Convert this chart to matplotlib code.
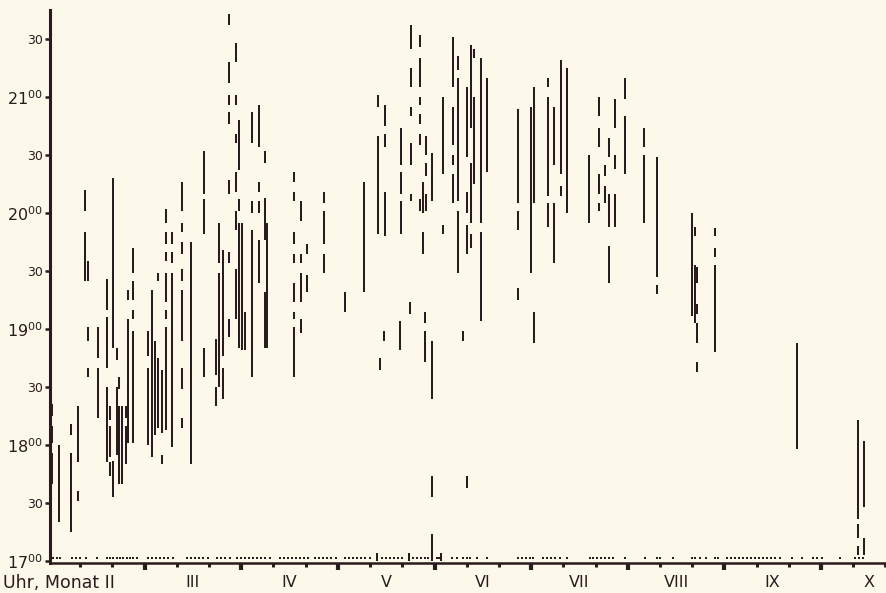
import matplotlib
matplotlib.use('Agg')
import matplotlib.pyplot as plt
from matplotlib.transforms import blended_transform_factory

plt.rcParams['font.family'] = ['DejaVu Sans']
plt.rcParams['mathtext.default'] = 'regular'

INK = '#2a1c1e'
PAPER = '#fcf8ea'

# x: day of season (30-day months, 0 = 1 Feb); y: minutes after 17:00
seg_day = [
    1.2, 1.2, 1.2,
    3.4,
    7.1, 7.1,
    9.3, 9.3,
    11.5, 11.5,
    12.4, 12.4, 12.4,
    15.5, 15.5,
    18.3, 18.3, 18.3,
    19.3, 19.3, 19.3,
    20.2, 20.2,
    21.4, 21.4,
    22.0, 22.0,
    23.0,
    24.2, 24.2,
    24.8, 24.8,
    26.4, 26.4, 26.4, 26.4,
    31.1, 31.1,
    32.3,
    33.2,
    34.2, 34.2,
    35.4, 35.4,
    36.6, 36.6, 36.6, 36.6, 36.6, 36.6,
    38.5, 38.5, 38.5,
    41.6, 41.6, 41.6, 41.6, 41.6, 41.6, 41.6,
    44.4,
    48.4, 48.4, 48.4,
    52.2, 52.2,
    53.1, 53.1,
    54.3, 54.3,
    56.2, 56.2, 56.2, 56.2, 56.2, 56.2, 56.2,
    58.4, 58.4, 58.4, 58.4, 58.4, 58.4,
    59.3, 59.3, 59.3,
    60.2,
    61.2,
    63.4, 63.4, 63.4,
    65.5, 65.5, 65.5, 65.5,
    67.4, 67.4, 67.4,
    68.0,
    76.4, 76.4, 76.4, 76.4, 76.4, 76.4, 76.4,
    78.6, 78.6, 78.6, 78.6,
    80.4, 80.4,
    85.7, 85.7, 85.7,
    92.2,
    98.1,
    102.2,
    102.5, 102.5,
    103.1,
    104.3,
    104.7, 104.7, 104.7,
    109.3,
    109.6, 109.6, 109.6,
    112.1,
    112.4,
    112.7, 112.7, 112.7, 112.7, 112.7,
    115.5, 115.5, 115.5, 115.5, 115.5, 115.5,
    116.5, 116.5,
    117.1, 117.1,
    117.4, 117.4, 117.4,
    119.3, 119.3, 119.3, 119.3,
    122.0,
    122.7, 122.7,
    125.8, 125.8, 125.8, 125.8,
    127.3, 127.3, 127.3,
    128.9,
    130.1, 130.1, 130.1, 130.1,
    131.4, 131.4, 131.4,
    132.3, 132.3,
    134.5, 134.5,
    136.3,
    146.0, 146.0, 146.0,
    150.0,
    150.9, 150.9,
    155.3, 155.3, 155.3,
    157.1, 157.1,
    159.3, 159.3,
    161.2,
    168.0,
    171.1, 171.1, 171.1, 171.1,
    173.0, 173.0,
    174.2, 174.2, 174.2,
    176.1, 176.1, 176.1,
    179.2, 179.2,
    185.1, 185.1,
    189.1, 189.1,
    200.0,
    200.9, 200.9,
    201.6, 201.6, 201.6, 201.6,
    207.1, 207.1, 207.1,
    232.6,
    251.6, 251.6, 251.6,
    253.4, 253.4,
]
seg_from = [
    75, 61, 40,
    20,
    65, 15,
    51, 31,
    181, 145,
    145, 114, 95,
    105, 74,
    130, 100, 51,
    73, 54, 44,
    110, 33,
    104, 55,
    89, 40,
    40,
    74, 50,
    135, 61,
    149, 135, 125, 61,
    106, 60,
    54,
    65,
    145, 69,
    66, 50,
    175, 164, 155, 134, 125, 68,
    164, 154, 59,
    181, 170, 159, 145, 114, 89, 69,
    50,
    190, 169, 95,
    96, 80,
    154, 90,
    106, 84,
    277, 247, 236, 226, 190, 154, 116,
    258, 236, 216, 191, 171, 125,
    202, 181, 110,
    109,
    109,
    216, 180, 95,
    214, 191, 180, 144,
    206, 166, 110,
    110,
    196, 186, 164, 154, 134, 125, 95,
    176, 154, 134, 118,
    159, 139,
    185, 164, 149,
    129,
    139,
    0,
    235, 169,
    99,
    114,
    225, 214, 168,
    109,
    205, 190, 169,
    0,
    128,
    265, 245, 230, 205, 186,
    266, 245, 236, 226, 215, 181,
    180, 159,
    123, 103,
    210, 199, 181,
    186, 84, 33, 0,
    0,
    200, 169,
    245, 215, 205, 185,
    254, 186, 149,
    114,
    209, 180, 159, 38,
    224, 175, 162,
    260, 195,
    175, 124,
    201,
    185, 171, 135,
    149,
    185, 113,
    245, 189, 173,
    205, 154,
    200, 189,
    180,
    175,
    230, 214, 190, 181,
    199, 185,
    209, 173, 144,
    224, 203, 173,
    239, 200,
    214, 175,
    147, 138,
    127,
    168, 123,
    144, 128, 113, 98,
    168, 157, 108,
    58,
    22, 12, 3,
    28, 3,
]
seg_to = [
    81, 70, 56,
    60,
    71, 56,
    80, 36,
    192, 170,
    155, 121, 100,
    121, 100,
    146, 126, 90,
    80, 70, 51,
    198, 52,
    110, 90,
    95, 80,
    80,
    80, 70,
    140, 125,
    162, 145, 130, 119,
    119, 100,
    140,
    114,
    149, 105,
    99, 55,
    182, 170, 160, 149, 130, 121,
    170, 160, 149,
    196, 175, 165, 151, 140, 100, 74,
    165,
    212, 187, 110,
    115, 90,
    175, 149,
    161, 100,
    283, 258, 241, 232, 197, 160, 125,
    268, 241, 221, 201, 181, 151,
    228, 187, 175,
    175,
    129,
    232, 186, 171,
    236, 196, 186, 166,
    212, 188, 139,
    175,
    201, 191, 170, 159, 144, 129, 121,
    186, 159, 149, 125,
    164, 148,
    191, 181, 159,
    139,
    196,
    4,
    241, 220,
    105,
    119,
    236, 221, 191,
    124,
    224, 201, 186,
    4,
    134,
    277, 255, 235, 216, 190,
    272, 260, 240, 231, 221, 187,
    196, 170,
    129, 119,
    220, 206, 190,
    211, 114, 44, 14,
    4,
    240, 174,
    271, 235, 210, 200,
    261, 250, 181,
    119,
    245, 191, 174, 44,
    267, 206, 169,
    265, 240,
    260, 170,
    250,
    234, 181, 141,
    235,
    245, 129,
    250, 240, 185,
    235, 185,
    259, 194,
    255,
    210,
    240, 224, 200, 185,
    205, 194,
    219, 190, 163,
    239, 210, 190,
    250, 230,
    224, 210,
    209, 143,
    180,
    173, 153,
    152, 133, 123, 103,
    172, 162, 153,
    113,
    73, 19, 8,
    62, 12,
]

# small observation marks along the base line (days without activity)
dot_day = [
    1.6, 2.8, 3.7, 7.5, 8.7, 9.9, 11.8, 15.2,
    18.3, 19.3, 20.2, 21.4, 22.4, 23.3, 24.5, 25.5, 26.4, 27.6,
    31.1, 32.3, 33.5, 34.8, 36.0, 37.3, 38.8,
    43.2, 44.4, 45.7, 46.9, 48.1, 49.7,
    52.5, 53.7, 55.0, 56.5,
    58.7, 59.9, 61.2, 62.4, 63.7, 64.9, 66.1, 67.4, 68.9,
    72.0, 73.3, 74.5, 75.8, 77.0, 78.3, 79.5, 80.7,
    82.9, 84.2, 85.4, 86.6, 87.9, 89.4,
    92.2, 93.5, 94.7, 96.0, 97.2, 98.4, 100.0,
    103.7, 105.0, 106.2, 107.5, 108.7, 109.9,
    113.4, 114.6, 115.8, 117.1, 118.0, 120.8, 121.4,
    125.5, 127.0, 128.9, 130.1, 131.1, 133.2, 136.3,
    146.0, 147.2, 148.4, 149.7, 150.6,
    153.7, 155.0, 156.2, 157.5, 159.0, 161.2,
    168.3, 169.3, 170.5, 171.7, 173.0, 174.2, 175.5, 179.2,
    185.4, 189.1, 190.1, 194.1, 200.0, 200.9, 202.5, 204.3, 207.1, 208.1,
    210.9, 212.1, 213.4, 214.6, 215.8, 217.1, 218.3, 219.6, 220.8, 222.0,
    223.3, 224.5, 225.8, 227.3, 231.1, 234.2, 237.6, 238.8, 240.4, 246.0,
    250.6, 251.9, 253.1,
]
dot_level = 1.8

month_names = ['III', 'IV', 'V', 'VI', 'VII', 'VIII', 'IX', 'X']
month_centers = [45, 75, 105, 135, 165, 195, 225, 255]
month_starts = [30, 60, 90, 120, 150, 180, 210, 240]
dekads = [10, 20, 40, 50, 70, 80, 100, 110, 130, 140, 160, 170, 190, 200,
          220, 230, 250, 260]
time_ticks = [0, 30, 60, 90, 120, 150, 180, 210, 240, 270]
time_labels = [r'$17^{00}$', '30', r'$18^{00}$', '30', r'$19^{00}$', '30',
               r'$20^{00}$', '30', r'$21^{00}$', '30']

fig = plt.figure(figsize=(8.86, 5.93), dpi=100, facecolor=PAPER)
ax = fig.add_axes([50 / 886, 30 / 593, 836 / 886, 553 / 593])
ax.set_facecolor(PAPER)

ax.vlines(seg_day, seg_from, seg_to, colors=INK, linewidth=1.45)
ax.plot(dot_day, [dot_level] * len(dot_day), ls='none', marker='s',
        ms=1.5, mew=0, color=INK)

ax.set_xlim(0.6, 260.2)
ax.set_ylim(-1, 285)

for s in ['top', 'right']:
    ax.spines[s].set_visible(False)
ax.spines['left'].set_linewidth(2.2)
ax.spines['bottom'].set_linewidth(1.8)
ax.spines['left'].set_color(INK)
ax.spines['bottom'].set_color(INK)

ax.set_yticks(time_ticks)
ax.set_yticklabels(time_labels)
for lbl, txt in zip(ax.get_yticklabels(), time_labels):
    lbl.set_fontsize(11.5 if '^' in txt else 9)
    lbl.set_color(INK)
ax.tick_params(axis='y', direction='out', length=3.5, width=1.8,
               colors=INK, pad=1.5)

ax.set_xticks(month_starts)
ax.set_xticks(dekads, minor=True)
ax.set_xticklabels([])
ax.tick_params(axis='x', which='major', direction='out', length=5,
               width=3, colors=INK)
ax.tick_params(axis='x', which='minor', direction='out', length=3,
               width=2.2, colors=INK)

trans = blended_transform_factory(ax.transData, ax.transAxes)
for name, c in zip(month_names, month_centers):
    ax.text(c, -0.036, name, transform=trans, ha='center', va='center',
            fontsize=11.5, color=INK)
fig.text(3 / 886, 1 - 583 / 593, 'Uhr, Monat II', ha='left', va='center',
         fontsize=12.5, color=INK)

fig.savefig('out.png', dpi=100, facecolor=PAPER)
